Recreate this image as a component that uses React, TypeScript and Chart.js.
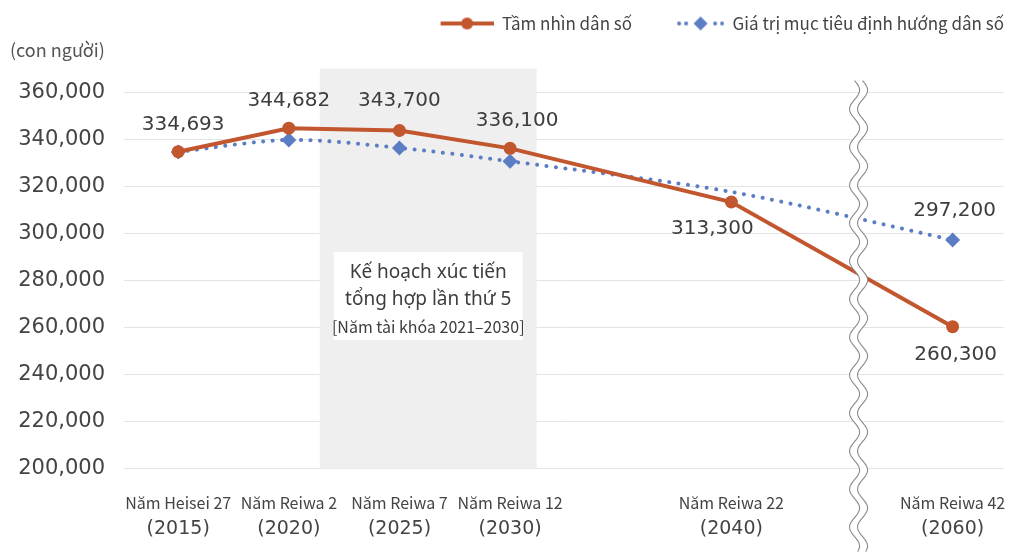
import React, { useEffect, useRef } from "react";
import { Chart, registerables } from "chart.js";

Chart.register(...registerables);

// ---------- data ----------
const CATEGORIES = ["Năm Heisei 27", "Năm Reiwa 2", "Năm Reiwa 7", "Năm Reiwa 12", "Năm Reiwa 22", "Năm Reiwa 42"];
const YEARS = ["(2015)", "(2020)", "(2025)", "(2030)", "(2040)", "(2060)"];
// horizontal slot of each category (axis is compressed after the break)
const X_SLOTS = [0, 1, 2, 3, 5, 7];
const VISION = [334693, 344682, 343700, 336100, 313300, 260300];
const TARGET = [334600, 339700, 336300, 330600, 317600, 297200];
const TARGET_MARKERS = [true, true, true, true, false, true];
const VISION_LABELS = ["334,693", "344,682", "343,700", "336,100", "313,300", "260,300"];
const TARGET_LABELS = ["", "", "", "", "", "297,200"];
const Y_TICKS = [200000, 220000, 240000, 260000, 280000, 300000, 320000, 340000, 360000];
const SERIES_NAMES = ["Tầm nhìn dân số", "Giá trị mục tiêu định hướng dân số"];
const Y_TITLE = "(con người)";
const PLAN_TEXT = ["Kế hoạch xúc tiến", "tổng hợp lần thứ 5", "[Năm tài khóa 2021–2030]"];
const PLAN_RANGE = [1.28, 3.24];
const BREAK_AT = 6.15;

// ---------- styles ----------
const ORANGE = "#C2562E";
const BLUE = "#5B7DC3";
const TEXT = "#3d3d3d";
const NUM_FONT = '"DejaVu Sans", sans-serif';
const LAT_FONT = '"Noto Sans CJK JP", "Noto Sans", sans-serif';
const VISION_OFFSETS = [[5, -27], [0, -27], [0, -30], [7, -28], [-19, 27], [3, 28]];
const TARGET_OFFSETS = [[0, 0], [0, 0], [0, 0], [0, 0], [0, 0], [2, -29]];
const ICON_W = 90;

function makeLegendIcon(kind: "line" | "dots") {
  const c = document.createElement("canvas");
  c.width = ICON_W;
  c.height = 16;
  const g = c.getContext("2d")!;
  const start = ICON_W - (kind === "line" ? 53 : 47);
  if (kind === "line") {
    g.strokeStyle = ORANGE;
    g.lineWidth = 4;
    g.beginPath();
    g.moveTo(start, 8);
    g.lineTo(ICON_W, 8);
    g.stroke();
    g.fillStyle = ORANGE;
    g.beginPath();
    g.arc(start + 26.5, 8, 6, 0, Math.PI * 2);
    g.fill();
  } else {
    g.fillStyle = BLUE;
    for (const dx of [2, 9, 38, 45]) {
      g.beginPath();
      g.arc(start + dx, 8, 2, 0, Math.PI * 2);
      g.fill();
    }
    const cx = start + 23.5;
    g.beginPath();
    g.moveTo(cx, 1);
    g.lineTo(cx + 7, 8);
    g.lineTo(cx, 15);
    g.lineTo(cx - 7, 8);
    g.closePath();
    g.fill();
  }
  return c;
}

const planPlugin = {
  id: "planShade",
  beforeDatasetsDraw(chart: any) {
    const { ctx, chartArea, scales } = chart;
    const x0 = scales.x.getPixelForValue(PLAN_RANGE[0]);
    const x1 = scales.x.getPixelForValue(PLAN_RANGE[1]);
    ctx.save();
    ctx.fillStyle = "#EFEFEF";
    ctx.fillRect(x0, chartArea.top, x1 - x0, chartArea.bottom - chartArea.top);
    const cx = (x0 + x1) / 2;
    const top = scales.y.getPixelForValue(292000);
    const bottom = scales.y.getPixelForValue(254700);
    ctx.fillStyle = "#FFFFFF";
    ctx.fillRect(cx - 94.5, top, 189, bottom - top);
    ctx.fillStyle = TEXT;
    ctx.textAlign = "center";
    ctx.textBaseline = "middle";
    ctx.font = '19px "Noto Sans", sans-serif';
    ctx.fillText(PLAN_TEXT[0], cx, top + 20);
    ctx.fillText(PLAN_TEXT[1], cx, top + 47);
    ctx.font = "16px " + LAT_FONT;
    ctx.fillText(PLAN_TEXT[2], cx, top + 75);
    ctx.restore();
  },
};

const breakPlugin = {
  id: "axisBreak",
  afterDatasetsDraw(chart: any) {
    const { ctx, chartArea, scales, height } = chart;
    const cx = scales.x.getPixelForValue(BREAK_AT);
    const y0 = chartArea.top + 12;
    const y1 = height;
    const amp = 5;
    const period = 38;
    const gap = 4;
    const xs = (y: number) => cx + amp * Math.sin(((y - y0) / period) * Math.PI * 2);
    ctx.save();
    ctx.beginPath();
    for (let y = y0; y <= y1; y += 1) {
      const x = xs(y) - gap;
      if (y === y0) ctx.moveTo(x, y);
      else ctx.lineTo(x, y);
    }
    for (let y = y1; y >= y0; y -= 1) ctx.lineTo(xs(y) + gap, y);
    ctx.closePath();
    ctx.fillStyle = "#FFFFFF";
    ctx.fill();
    ctx.strokeStyle = "#8a8a8a";
    ctx.lineWidth = 1.1;
    for (const side of [-1, 1]) {
      ctx.beginPath();
      for (let y = y0; y <= y1; y += 1) {
        const x = xs(y) + side * gap;
        if (y === y0) ctx.moveTo(x, y);
        else ctx.lineTo(x, y);
      }
      ctx.stroke();
    }
    ctx.restore();
  },
};

const labelPlugin = {
  id: "valueLabels",
  afterDatasetsDraw(chart: any) {
    const { ctx } = chart;
    ctx.save();
    ctx.font = "20px " + NUM_FONT;
    ctx.fillStyle = TEXT;
    ctx.textAlign = "center";
    ctx.textBaseline = "middle";
    const sets: [string[], number[][]][] = [
      [VISION_LABELS, VISION_OFFSETS],
      [TARGET_LABELS, TARGET_OFFSETS],
    ];
    sets.forEach(([labels, offs], di) => {
      const meta = chart.getDatasetMeta(di);
      meta.data.forEach((pt: any, i: number) => {
        if (!labels[i]) return;
        ctx.fillText(labels[i], pt.x + offs[i][0], pt.y + offs[i][1]);
      });
    });
    ctx.restore();
  },
};

// second line of the category axis (years), placed under each axis tick
const yearPlugin = {
  id: "yearLine",
  afterDraw(chart: any) {
    const { ctx, chartArea, scales } = chart;
    ctx.save();
    ctx.font = "19px " + NUM_FONT;
    ctx.fillStyle = "#444";
    ctx.textAlign = "center";
    ctx.textBaseline = "middle";
    scales.x.ticks.forEach((t: any) => {
      const i = X_SLOTS.indexOf(t.value);
      if (i < 0) return;
      ctx.fillText(YEARS[i], scales.x.getPixelForValue(t.value), chartArea.bottom + 60);
    });
    ctx.restore();
  },
};

export default function App() {
  const ref = useRef<HTMLCanvasElement | null>(null);

  useEffect(() => {
    if (!ref.current) return;
    const icons = [makeLegendIcon("line"), makeLegendIcon("dots")];
    const chart = new Chart(ref.current, {
      type: "line",
      data: {
        datasets: [
          {
            label: SERIES_NAMES[0],
            data: VISION.map((v, i) => ({ x: X_SLOTS[i], y: v })),
            borderColor: ORANGE,
            backgroundColor: ORANGE,
            borderWidth: 4,
            pointRadius: 6.5,
            pointBorderWidth: 0,
            pointStyle: "circle",
            tension: 0,
            order: 1,
          },
          {
            label: SERIES_NAMES[1],
            data: TARGET.map((v, i) => ({ x: X_SLOTS[i], y: v })),
            borderColor: BLUE,
            backgroundColor: BLUE,
            borderWidth: 4,
            borderDash: [0.1, 9.4],
            borderCapStyle: "round",
            pointRadius: TARGET_MARKERS.map((m) => (m ? 7.5 : 0)),
            pointBorderWidth: 0,
            pointStyle: "rectRot",
            tension: 0.3,
            order: 2,
          },
        ],
      },
      options: {
        animation: false,
        responsive: true,
        maintainAspectRatio: false,
        layout: { padding: { top: 13, right: 5, bottom: 15, left: 10 } },
        plugins: {
          tooltip: { enabled: false },
          legend: {
            display: true,
            position: "top",
            align: "end",
            weight: 3000,
            labels: {
              usePointStyle: true,
              pointStyleWidth: ICON_W,
              padding: 2,
              boxHeight: 16,
              font: { size: 17, family: LAT_FONT },
              color: "#444",
              generateLabels: () =>
                SERIES_NAMES.map((name, i) => ({
                  text: name,
                  fillStyle: i === 0 ? ORANGE : BLUE,
                  strokeStyle: i === 0 ? ORANGE : BLUE,
                  lineWidth: 0,
                  pointStyle: icons[i],
                  hidden: false,
                  datasetIndex: i,
                  fontColor: "#444",
                })),
            },
          } as any,
          title: {
            display: true,
            text: Y_TITLE,
            align: "start",
            position: "top",
            weight: 500,
            color: "#555",
            font: { size: 18, family: LAT_FONT, weight: "normal" },
            padding: { top: -3, bottom: 8 },
          } as any,
        },
        scales: {
          x: {
            type: "linear",
            min: -0.49,
            max: 7.46,
            grid: { display: false, drawTicks: false },
            border: { display: false },
            afterBuildTicks: (scale: any) => {
              scale.ticks = X_SLOTS.map((v) => ({ value: v }));
            },
            afterFit: (scale: any) => {
              scale.paddingLeft = 0;
              scale.paddingRight = 0;
            },
            ticks: {
              autoSkip: false,
              maxRotation: 0,
              padding: 23,
              color: "#444",
              font: { size: 16, family: LAT_FONT, lineHeight: 1.4 },
              callback: (v: any) => {
                const i = X_SLOTS.indexOf(Number(v));
                return i >= 0 ? CATEGORIES[i] : "";
              },
            },
          },
          y: {
            type: "linear",
            min: 200000,
            max: 370000,
            afterBuildTicks: (scale: any) => {
              scale.ticks = Y_TICKS.map((v) => ({ value: v }));
            },
            afterFit: (scale: any) => {
              scale.width = 114;
            },
            grid: { color: "#E4E4E4", lineWidth: 1, drawTicks: false },
            border: { display: false },
            ticks: {
              padding: 19,
              color: "#444",
              font: { size: 21, family: NUM_FONT },
              callback: (v: any) => Number(v).toLocaleString("en-US"),
            },
          },
        },
      },
      plugins: [planPlugin, breakPlugin, labelPlugin, yearPlugin],
    } as any);
    return () => chart.destroy();
  }, []);

  return (
    <div style={{ position: "absolute", left: 0, top: 0, width: 1011, height: 552, background: "#fff" }}>
      <canvas ref={ref} />
    </div>
  );
}
